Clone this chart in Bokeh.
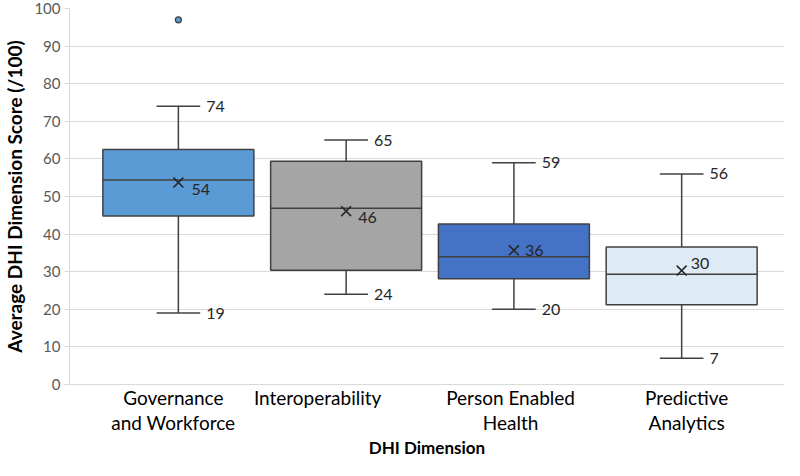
from bokeh.plotting import figure
from bokeh.models import FixedTicker, ColumnDataSource
from bokeh.core.properties import value
from bokeh.embed import file_html
from bokeh.resources import INLINE

# ---- data ----
categories = ["Governance\nand Workforce", "Interoperability", "Person Enabled\nHealth", "Predictive\nAnalytics"]
positions = [1, 2, 3, 4]
label_positions = [0.97, 1.83, 2.98, 4.03]
lower = [19, 24, 20, 7]
q1 = [44.8, 30.4, 28.1, 21.2]
median = [54.4, 46.9, 34.0, 29.3]
q3 = [62.5, 59.4, 42.7, 36.6]
upper = [74, 65, 59, 56]
mean = [53.7, 46.1, 35.7, 30.3]
outlier_x = [1]
outlier_y = [97]
colors = ["#5B9BD5", "#A5A5A5", "#4472C4", "#DEEBF7"]
y_ticks = [0, 10, 20, 30, 40, 50, 60, 70, 80, 90, 100]

# layout constants
BOX_W = 0.9
CAP_W = 0.13
mean_x_off = [13, 12, 11, 9]
mean_y_off = [7, 6, 0, -7]

FONT = "Lato"
EDGE = "#404040"
TXT = "#262626"

p = figure(width=784, height=460, output_backend="svg", toolbar_location=None,
           x_range=(0.351, 4.613), y_range=(0, 100),
           min_border_left=68, min_border_right=0, min_border_top=8, min_border_bottom=75)
p.outline_line_color = None
p.background_fill_color = "white"
p.border_fill_color = "white"

src = ColumnDataSource(dict(
    x=positions, lower=lower, q1=q1, median=median, q3=q3, upper=upper, mean=mean,
    color=colors,
    x_left=[x - BOX_W / 2 for x in positions], x_right=[x + BOX_W / 2 for x in positions],
    cap_l=[x - CAP_W for x in positions], cap_r=[x + CAP_W for x in positions],
    up_lab=[str(round(v)) for v in upper], lo_lab=[str(round(v)) for v in lower],
    mean_lab=[str(round(v)) for v in mean],
    mxo=mean_x_off, myo=mean_y_off,
))

# whiskers
p.segment(x0="x", y0="q3", x1="x", y1="upper", source=src, line_color=EDGE, line_width=1.5)
p.segment(x0="x", y0="q1", x1="x", y1="lower", source=src, line_color=EDGE, line_width=1.5)
p.segment(x0="cap_l", y0="upper", x1="cap_r", y1="upper", source=src, line_color=EDGE, line_width=1.5)
p.segment(x0="cap_l", y0="lower", x1="cap_r", y1="lower", source=src, line_color=EDGE, line_width=1.5)

# boxes
p.vbar(x="x", width=BOX_W, bottom="q1", top="q3", source=src, fill_color="color",
       line_color=EDGE, line_width=1.5)
p.segment(x0="x_left", y0="median", x1="x_right", y1="median", source=src, line_color=EDGE, line_width=1.5)

# means
p.scatter(x="x", y="mean", source=src, marker="x", size=14, line_color=TXT, line_width=1.6)

# outlier
p.scatter(x=outlier_x, y=outlier_y, marker="circle", size=6, fill_color="#5B9BD5",
          line_color=EDGE, line_width=1.2)

# labels
p.text(x="cap_r", y="upper", text="up_lab", source=src, x_offset=6, text_baseline="middle",
       text_font=value(FONT), text_font_size="16px", text_color=TXT)
p.text(x="cap_r", y="lower", text="lo_lab", source=src, x_offset=6, text_baseline="middle",
       text_font=value(FONT), text_font_size="16px", text_color=TXT)
p.text(x="x", y="mean", text="mean_lab", source=src, x_offset="mxo", y_offset="myo",
       text_baseline="middle", text_font=value(FONT), text_font_size="16px", text_color=TXT)

# axes
p.xgrid.visible = False
p.ygrid.grid_line_color = "#D9D9D9"
p.ygrid.ticker = FixedTicker(ticks=y_ticks)

p.yaxis.ticker = FixedTicker(ticks=y_ticks)
p.yaxis.axis_line_color = "#D9D9D9"
p.yaxis.major_tick_line_color = "#D9D9D9"
p.yaxis.major_tick_out = 5
p.yaxis.major_tick_in = 0
p.yaxis.minor_tick_line_color = None
p.yaxis.minor_tick_out = 0
p.yaxis.major_label_text_font = FONT
p.yaxis.major_label_text_font_size = "15px"
p.yaxis.major_label_text_color = "#595959"
p.yaxis.major_label_standoff = 4
p.yaxis.axis_label = "Average DHI Dimension Score (/100)"
p.yaxis.axis_label_text_font = FONT
p.yaxis.axis_label_text_font_style = "bold"
p.yaxis.axis_label_text_font_size = "19px"
p.yaxis.axis_label_text_line_height = 1.0
p.yaxis.axis_label_text_color = "black"
p.yaxis.axis_label_standoff = 5

p.xaxis.ticker = FixedTicker(ticks=label_positions)
p.xaxis.major_label_overrides = {lp: c for lp, c in zip(label_positions, categories)}
p.xaxis.axis_line_color = "#D9D9D9"
p.xaxis.major_tick_line_color = None
p.xaxis.major_tick_out = 0
p.xaxis.major_tick_in = 0
p.xaxis.minor_tick_line_color = None
p.xaxis.minor_tick_out = 0
p.xaxis.major_label_text_font = FONT
p.xaxis.major_label_text_font_size = "19px"
p.xaxis.major_label_text_line_height = 1.1
p.xaxis.major_label_text_color = "black"
p.xaxis.major_label_standoff = 1
p.xaxis.axis_label = "DHI Dimension"
p.xaxis.axis_label_text_font = FONT
p.xaxis.axis_label_text_font_style = "bold"
p.xaxis.axis_label_text_font_size = "17px"
p.xaxis.axis_label_text_line_height = 1.0
p.xaxis.axis_label_text_color = "black"
p.xaxis.axis_label_standoff = 0

open("out.html", "w").write(file_html(p, INLINE))
